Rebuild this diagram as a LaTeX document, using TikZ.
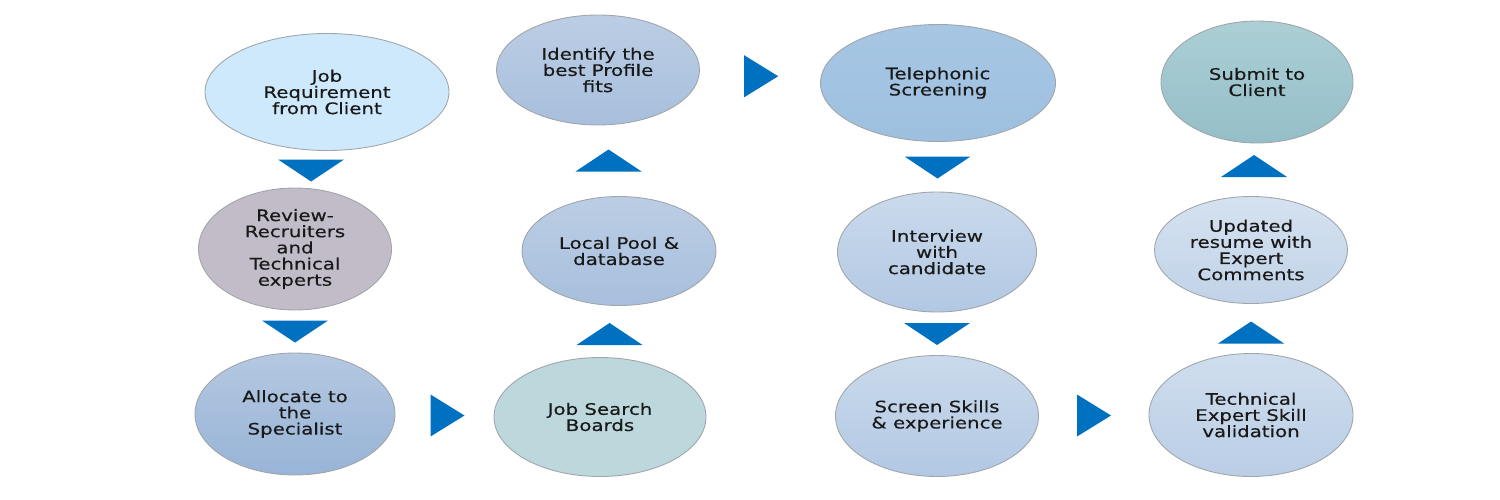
\documentclass[tikz,border=0pt]{standalone}
\usepackage{fontspec}
\setmainfont[FakeStretch=1.25,FakeBold=0.4]{DejaVu Sans}
\usetikzlibrary{calc,shapes.geometric}
\definecolor{FlowBlue}{RGB}{0,112,192}
\definecolor{TextInk}{RGB}{25,25,25}
\definecolor{RimGray}{RGB}{160,165,170}
\definecolor{ClientSky}{RGB}{205,233,251}
\definecolor{ReviewMauve}{RGB}{194,188,200}
\definecolor{SteelTop}{RGB}{180,200,225}
\definecolor{SteelBot}{RGB}{152,180,215}
\definecolor{BoardTeal}{RGB}{188,216,220}
\definecolor{PhoneTop}{RGB}{166,198,227}
\definecolor{PhoneBot}{RGB}{158,192,224}
\definecolor{PaleTop}{RGB}{202,218,236}
\definecolor{PaleBot}{RGB}{178,200,227}
\definecolor{SubmitTop}{RGB}{172,207,213}
\definecolor{SubmitBot}{RGB}{148,190,200}

% blue arrow heads between two stages
\newcommand{\tridown}[2]{\fill[FlowBlue] ($(#1)!0.5!(#2)$) +(-33,-11) -- +(33,-11) -- +(0,11) -- cycle;}
\newcommand{\triup}[2]{\fill[FlowBlue] ($(#1)!0.5!(#2)$) +(-33,11) -- +(33,11) -- +(0,-11) -- cycle;}
\newcommand{\triright}[3][0.5]{\fill[FlowBlue] ($(#2)!#1!(#3)$) +(-17,-21) -- +(17,0) -- +(-17,21) -- cycle;}

\begin{document}
\begin{tikzpicture}[x=0.2mm, y=-0.2mm]
    \tikzstyle{stage}=[ellipse, draw=RimGray, line width=0.5pt, inner sep=0pt, align=center, text=TextInk, font=\fontsize{9}{9.2}\selectfont]
    \useasboundingbox (0,0) rectangle (1500,500);

    \node[stage, fill=ClientSky, minimum width=48.8mm, minimum height=23.4mm] (job) at (327,92) {Job\\Requirement\\from Client};
    \node[stage, fill=ReviewMauve, minimum width=38.6mm, minimum height=24.4mm] (review) at (295,249) {Review-\\Recruiters\\and\\Technical\\experts};
    \node[stage, top color=SteelTop, bottom color=SteelBot, minimum width=40mm, minimum height=24.4mm] (allocate) at (295,414) {Allocate to\\the\\Specialist};

    \node[stage, top color=SteelTop!90!white, bottom color=SteelBot!85!white, minimum width=40.6mm, minimum height=22mm] (identify) at (598,70) {Identify the\\best Profile\\fits};
    \node[stage, top color=SteelTop!90!white, bottom color=SteelBot!85!white, minimum width=38.8mm, minimum height=21.8mm] (pool) at (619,251) {Local Pool \&\\database};
    \node[stage, fill=BoardTeal, minimum width=42.4mm, minimum height=23.8mm] (boards) at (600,417) {Job Search\\Boards};

    \node[stage, top color=PhoneTop, bottom color=PhoneBot, minimum width=47mm, minimum height=23.4mm] (phone) at (938,83) {Telephonic\\Screening};
    \node[stage, top color=PaleTop, bottom color=PaleBot, minimum width=39.8mm, minimum height=24mm] (interview) at (937,252) {Interview\\with\\candidate};
    \node[stage, top color=PaleTop, bottom color=PaleBot, minimum width=40.6mm, minimum height=24.2mm] (skills) at (937,416) {Screen Skills\\\& experience};

    \node[stage, top color=SubmitTop, bottom color=SubmitBot, minimum width=38.4mm, minimum height=24.4mm] (submit) at (1257,82) {Submit to\\Client};
    \node[stage, top color=PaleTop!80!white, bottom color=PaleBot!80!white, minimum width=38.6mm, minimum height=21.4mm] (updated) at (1251,250) {Updated\\resume with\\Expert\\Comments};
    \node[stage, top color=PaleTop!90!white, bottom color=PaleBot!90!white, minimum width=40.8mm, minimum height=24.6mm] (validate) at (1251,415) {Technical\\Expert Skill\\validation};

    \tridown{job}{review}
    \tridown{review}{allocate}
    \triright{allocate}{boards}
    \triup{boards}{pool}
    \triup{pool}{identify}
    \triright[0.48]{identify}{phone}
    \tridown{phone}{interview}
    \tridown{interview}{skills}
    \triright{skills}{validate}
    \triup{validate}{updated}
    \triup{updated}{submit}
\end{tikzpicture}
\end{document}
